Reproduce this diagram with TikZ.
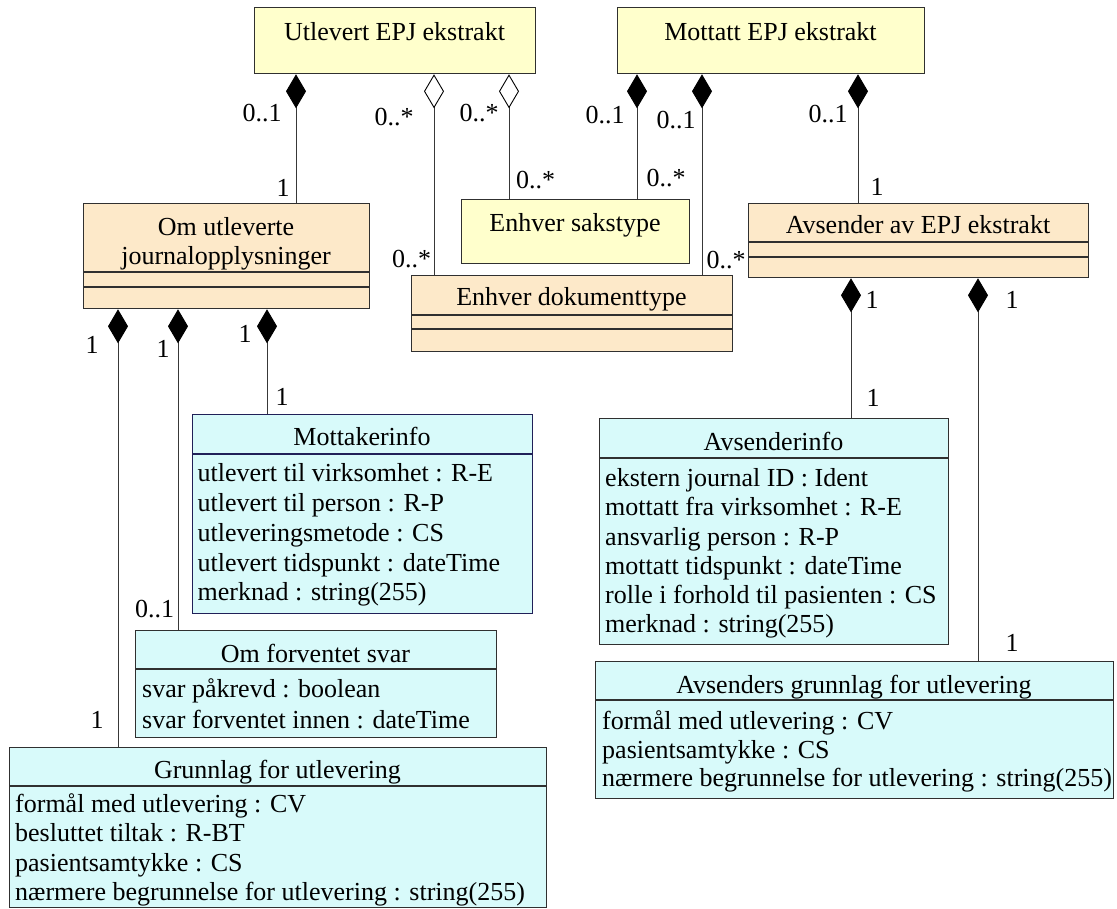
\documentclass[tikz,border=0pt]{standalone}
\usepackage{fontspec}
\setmainfont{Liberation Serif}
\usetikzlibrary{arrows.meta}
\definecolor{clsyellow}{HTML}{FFFFCC}
\definecolor{clstan}{HTML}{FDE9C9}
\definecolor{clscyan}{HTML}{D8FAFA}
\definecolor{edgec}{HTML}{303030}
\definecolor{navyedge}{HTML}{202058}
\definecolor{linec}{HTML}{383838}

\begin{document}
\begin{tikzpicture}[x=1pt,y=-1pt,
  every node/.style={font=\fontsize{26}{30}\selectfont},
  cls/.style={draw=edgec, line width=1.3pt, rectangle, inner sep=0pt, anchor=north west},
  yel/.style={cls, fill=clsyellow},
  tan/.style={cls, fill=clstan},
  cyn/.style={cls, fill=clscyan},
  sepline/.style={draw=edgec, line width=1.1pt},
  txt/.style={inner sep=0pt, text height=17pt, text depth=0pt},
  attr/.style={txt, anchor=west},
  lbl/.style={txt, anchor=center},
  assoc/.style={draw=linec, line width=0.9pt},
  comp/.style={assoc, {Diamond[length=34pt,width=20pt,color=black,fill=black]}-},
  aggr/.style={assoc, {Diamond[open,length=34pt,width=20pt,color=black]}-}
]
\useasboundingbox (0,0) rectangle (1117,909);

% ---- class boxes ----
\node[yel, minimum width=281pt, minimum height=66pt] (utl) at (254,7) {};
\node[yel, minimum width=307pt, minimum height=66pt] (mot) at (617,7) {};
\node[tan, minimum width=286pt, minimum height=105pt] (om) at (83,203) {};
\node[yel, minimum width=228pt, minimum height=64pt] (sak) at (461,199) {};
\node[tan, minimum width=321pt, minimum height=76pt] (dok) at (411,275) {};
\node[tan, minimum width=340pt, minimum height=74pt] (avs) at (748,203) {};
\node[cyn, draw=navyedge, minimum width=340pt, minimum height=199pt] (mi) at (192,414) {};
\node[cyn, minimum width=361pt, minimum height=107pt] (ofs) at (135,630) {};
\node[cyn, minimum width=537pt, minimum height=160pt] (gr) at (9,747) {};
\node[cyn, minimum width=349pt, minimum height=226pt] (ai) at (599,418) {};
\node[cyn, minimum width=518pt, minimum height=137pt] (ag) at (595,661) {};

% ---- compartment separators ----
\draw[sepline] (om.west |- 0,272) -- (om.east |- 0,272);
\draw[sepline] (om.west |- 0,287) -- (om.east |- 0,287);
\draw[sepline] (dok.west |- 0,315) -- (dok.east |- 0,315);
\draw[sepline] (dok.west |- 0,329) -- (dok.east |- 0,329);
\draw[sepline] (avs.west |- 0,242) -- (avs.east |- 0,242);
\draw[sepline] (avs.west |- 0,257) -- (avs.east |- 0,257);
\draw[sepline, draw=navyedge] (mi.west |- 0,454) -- (mi.east |- 0,454);
\draw[sepline] (ofs.west |- 0,669) -- (ofs.east |- 0,669);
\draw[sepline] (gr.west |- 0,786) -- (gr.east |- 0,786);
\draw[sepline] (ai.west |- 0,458) -- (ai.east |- 0,458);
\draw[sepline] (ag.west |- 0,700) -- (ag.east |- 0,700);

% ---- associations ----
\draw[comp] (296,0 |- utl.south) -- (296,0 |- om.north);
\draw[aggr] (434,0 |- utl.south) -- (434,0 |- dok.north);
\draw[aggr] (509,0 |- utl.south) -- (509,0 |- sak.north);
\draw[comp] (637,0 |- mot.south) -- (637,0 |- sak.north);
\draw[comp] (702,0 |- mot.south) -- (702,0 |- dok.north);
\draw[comp] (858,0 |- mot.south) -- (858,0 |- avs.north);
\draw[comp] (118,0 |- om.south) -- (118,0 |- gr.north);
\draw[comp] (178,0 |- om.south) -- (178,0 |- ofs.north);
\draw[comp] (267,0 |- om.south) -- (267,0 |- mi.north);
\draw[comp] (851,0 |- avs.south) -- (851,0 |- ai.north);
\draw[comp] (978,0 |- avs.south) -- (978,0 |- ag.north);

% ---- multiplicities ----
\node[lbl] (m1a) at (262,113) {0..1};
\node[lbl] (m1b) at (283,188) {1};
\node[lbl] (m2a) at (394,117) {0..*};
\node[lbl] (m2b) at (411.5,259) {0..*};
\node[lbl] (m3a) at (479,113) {0..*};
\node[lbl] (m3b) at (535.5,180) {0..*};
\node[lbl] (m4a) at (605,115) {0..1};
\node[lbl] (m4b) at (666,178) {0..*};
\node[lbl] (m5a) at (676,120) {0..1};
\node[lbl] (m5b) at (726,260) {0..*};
\node[lbl] (m6a) at (828,114) {0..1};
\node[lbl] (m6b) at (877,187) {1};
\node[lbl] (m7a) at (92,345) {1};
\node[lbl] (m7b) at (97,720) {1};
\node[lbl] (m8a) at (163,349) {1};
\node[lbl] (m8b) at (154.5,609) {0..1};
\node[lbl] (m9a) at (245,334) {1};
\node[lbl] (m9b) at (282,397) {1};
\node[lbl] (m10a) at (872,300) {1};
\node[lbl] (m10b) at (873,398) {1};
\node[lbl] (m11a) at (1012,300) {1};
\node[lbl] (m11b) at (1012,643) {1};

% ---- class names ----
\node[lbl] (tutl) at (394.5,32) {Utlevert EPJ ekstrakt};
\node[lbl] (tmot) at (770.5,32) {Mottatt EPJ ekstrakt};
\node[lbl] (tom1) at (226,227) {Om utleverte};
\node[lbl] (tom2) at (226,256) {journalopplysninger};
\node[lbl] (tsak) at (575,223) {Enhver sakstype};
\node[lbl] (tdok) at (571.5,297) {Enhver dokumenttype};
\node[lbl] (tavs) at (918,225) {Avsender av EPJ ekstrakt};
\node[lbl] (tmi) at (362,437) {Mottakerinfo};
\node[lbl] (tofs) at (315.5,654) {Om forventet svar};
\node[lbl] (tgr) at (277.5,770) {Grunnlag for utlevering};
\node[lbl] (tai) at (773.5,442) {Avsenderinfo};
\node[lbl] (tag) at (854,685) {Avsenders grunnlag for utlevering};

% ---- attributes ----
\node[attr] (mi1) at (197.5,473) {utlevert til virksomhet : R-E};
\node[attr] (mi2) at (197.5,503) {utlevert til person : R-P};
\node[attr] (mi3) at (197.5,533) {utleveringsmetode : CS};
\node[attr] (mi4) at (197.5,563) {utlevert tidspunkt : dateTime};
\node[attr] (mi5) at (197.5,592) {merknad : string(255)};

\node[attr] (of1) at (142,689) {svar påkrevd : boolean};
\node[attr] (of2) at (142,720) {svar forventet innen : dateTime};

\node[attr] (gr1) at (15,804) {formål med utlevering : CV};
\node[attr] (gr2) at (15,833) {besluttet tiltak : R-BT};
\node[attr] (gr3) at (15,863) {pasientsamtykke : CS};
\node[attr] (gr4) at (15,892) {nærmere begrunnelse for utlevering : string(255)};

\node[attr] (ai1) at (605,478) {ekstern journal ID : Ident};
\node[attr] (ai2) at (605,507) {mottatt fra virksomhet : R-E};
\node[attr] (ai3) at (605,537) {ansvarlig person : R-P};
\node[attr] (ai4) at (605,566) {mottatt tidspunkt : dateTime};
\node[attr] (ai5) at (605,595) {rolle i forhold til pasienten : CS};
\node[attr] (ai6) at (605,624) {merknad : string(255)};

\node[attr] (ag1) at (602,721) {formål med utlevering : CV};
\node[attr] (ag2) at (602,750) {pasientsamtykke : CS};
\node[attr] (ag3) at (602,778) {nærmere begrunnelse for utlevering : string(255)};
\end{tikzpicture}
\end{document}
